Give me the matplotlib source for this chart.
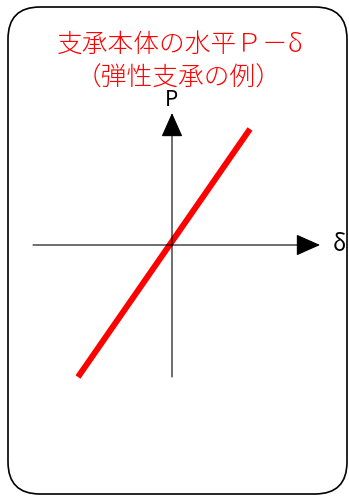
import matplotlib
matplotlib.use('Agg')
import matplotlib.pyplot as plt
from matplotlib.patches import FancyBboxPatch

plt.rcParams['font.family'] = ['Noto Sans CJK JP', 'DejaVu Sans']

# data
delta = [-0.94, 0.78]
P = [-1.32, 1.16]
title_lines = ['支承本体の水平Ｐ－δ', '（弾性支承の例）']
x_label = 'δ'
y_label = 'P'

fig = plt.figure(figsize=(3.49, 4.96), dpi=100)
ax = fig.add_axes([0, 0, 1, 1])
ax.set_xlim(-1.72, 1.77)
ax.set_ylim(-2.51, 2.45)
ax.axis('off')

# rounded frame
frame = FancyBboxPatch((-1.64, -2.49), 3.39, 4.87,
                       boxstyle='round,pad=0,rounding_size=0.32',
                       fc='white', ec='black', lw=1.2)
ax.add_patch(frame)

# axes with arrows
ax.annotate('', xy=(1.48, 0), xytext=(-1.39, 0),
            arrowprops=dict(arrowstyle='-|>,head_length=0.9,head_width=0.4',
                            color='black', lw=0.8, shrinkA=0, shrinkB=0,
                            mutation_scale=17))
ax.annotate('', xy=(0, 1.32), xytext=(0, -1.32),
            arrowprops=dict(arrowstyle='-|>,head_length=0.9,head_width=0.4',
                            color='black', lw=0.8, shrinkA=0, shrinkB=0,
                            mutation_scale=17))
ax.text(1.67, 0, x_label, fontsize=16, ha='center', va='center')
ax.text(0, 1.45, y_label, fontsize=15, ha='center', va='center')

# P-delta line
ax.plot(delta, P, color='red', lw=4.3, solid_capstyle='butt')

# title
ax.text(0.08, 2.0, title_lines[0], color='red', fontsize=18.5, fontweight='light',
        ha='center', va='center')
ax.text(0.07, 1.67, title_lines[1], color='red', fontsize=18.5, fontweight='light',
        ha='center', va='center')

fig.savefig('out.png', dpi=100)
